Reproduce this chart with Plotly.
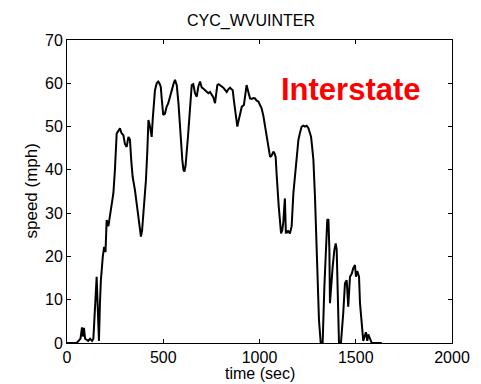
import plotly.graph_objects as go

time_sec = [
    0, 50, 60, 70, 78, 82, 88, 94, 100, 110,
    120, 130, 137, 146, 154, 159, 166, 171, 176, 186,
    193, 200, 206, 215, 223, 235, 241, 249, 258, 267,
    275, 283, 293, 301, 310, 319, 327, 334, 341, 353,
    362, 371, 378, 384, 390, 397, 404, 410, 417, 423,
    431, 440, 445, 451, 457, 466, 474, 480, 487, 493,
    500, 509, 517, 526, 535, 544, 553, 561, 570, 579,
    587, 593, 599, 605, 610, 616, 622, 629, 636, 642,
    648, 656, 665, 674, 682, 691, 700, 708, 717, 725,
    734, 743, 752, 760, 769, 775, 781, 788, 795, 803,
    812, 821, 830, 838, 847, 855, 861, 867, 873, 879,
    885, 892, 899, 908, 919, 926, 933, 942, 951, 960,
    968, 977, 985, 994, 1002, 1011, 1020, 1029, 1035, 1041,
    1048, 1055, 1063, 1072, 1078, 1084, 1089, 1094, 1100, 1106,
    1112, 1118, 1124, 1128, 1132, 1137, 1141, 1145, 1150, 1158,
    1167, 1176, 1183, 1190, 1196, 1202, 1210, 1219, 1228, 1236,
    1245, 1254, 1262, 1268, 1274, 1280, 1288, 1297, 1309, 1318,
    1328, 1337, 1345, 1352, 1358, 1363, 1366, 1371, 1380, 1389,
    1396, 1401, 1406, 1413, 1423, 1429, 1435, 1444, 1453, 1461,
    1466, 1470, 1479, 1487, 1496, 1501, 1508, 1517, 1522, 1531,
    1539, 1548, 1553, 1560, 1565, 1574, 1583, 1635,
]

speed_mph = [
    0, 0, 0.5, 1, 3.6, 1.5, 3.5, 1, 0.8, 0.5,
    1, 0.5, 1, 10, 15.3, 9, 0.5, 9, 14.5, 20,
    22.2, 21, 28.4, 27, 29.2, 32, 34.6, 40, 48.4, 49,
    49.6, 48.5, 48, 46, 45.3, 47.6, 47, 42, 38.4, 35.3,
    32, 28.4, 26, 24.6, 26, 30, 34, 37.6, 44, 51.5,
    50, 47.6, 51.5, 55, 58.4, 60, 60.4, 60, 59.2, 56,
    52.7, 53, 54.5, 55.4, 57, 58.4, 59.8, 60.8, 59.6, 55.4,
    49.2, 45.5, 42.3, 40, 39.6, 41, 43.8, 48, 52.3, 56,
    59.6, 59.8, 57.7, 56.9, 59.2, 60.4, 59, 58.8, 58.4, 58.2,
    57.7, 58, 57.5, 56.8, 55.4, 57.5, 59.6, 59.8, 59.6, 59.2,
    59, 58.5, 58, 58.6, 59, 58.6, 58.4, 56, 53.8, 51.5,
    50, 51.5, 53, 54.6, 55, 57, 59.6, 58, 56.5, 56.4,
    56.6, 56.5, 56, 55.8, 55.2, 54.2, 52.5, 50, 48.5, 46.9,
    45, 43, 43.3, 44.2, 43.8, 43, 39, 34.6, 31.5, 28.4,
    25.3, 26, 28, 31, 33.4, 25.3, 26, 25.6, 25.8, 25.3,
    27, 34.6, 38.5, 42.3, 45, 46.9, 48.5, 50, 50.2, 50,
    50.2, 49.6, 48.5, 47.6, 45, 42.3, 34, 20.5, 5.3, 0,
    0, 13, 21.5, 28.4, 28.6, 21.5, 9.2, 13, 17.6, 21.5,
    23, 21.5, 13, 0, 0, 3, 6.9, 13.8, 14.5, 8.4,
    12, 15.3, 16, 17.3, 18, 15.3, 16.6, 15.3, 9.2, 3.8,
    0.5, 1.8, 2.5, 0.5, 2, 1, 0, 0,
]

x_ticks = [0, 500, 1000, 1500, 2000]
y_ticks = [0, 10, 20, 30, 40, 50, 60, 70]
chart_title = "CYC_WVUINTER"
x_label = "time (sec)"
y_label = "speed (mph)"
note_text = "Interstate"

FONT = "Liberation Sans, Arial, sans-serif"

fig = go.Figure()
fig.add_trace(go.Scatter(
    x=time_sec, y=speed_mph, mode="lines",
    line=dict(color="black", width=2),
    showlegend=False, hoverinfo="skip",
))

axis_common = dict(
    showline=True, linecolor="black", linewidth=1, mirror="ticks",
    ticks="inside", ticklen=4, tickcolor="black", tickwidth=1,
    showgrid=False, zeroline=False, automargin=False,
    tickfont=dict(family=FONT, size=16, color="black"),
)

fig.update_layout(
    width=481, height=384,
    margin=dict(l=67, r=29, t=40, b=41),
    paper_bgcolor="white", plot_bgcolor="white",
    font=dict(family=FONT, size=16, color="black"),
    title=dict(text=chart_title, x=0.478, xref="paper", xanchor="center",
               y=0.947, yref="container", yanchor="middle",
               font=dict(family=FONT, size=16, color="black")),
    xaxis=dict(range=[0, 2000], tickvals=x_ticks, ticktext=[str(v) for v in x_ticks],
               **axis_common),
    yaxis=dict(range=[0, 70], tickvals=y_ticks, ticktext=[str(v) for v in y_ticks],
               **axis_common),
    annotations=[
        dict(text="<b>" + note_text + "</b>", xref="paper", yref="paper",
             x=0.551, y=0.835, xanchor="left", yanchor="middle", showarrow=False,
             font=dict(family=FONT, size=31, color="#ff0000")),
        dict(text=x_label, xref="paper", yref="paper",
             x=0.5, y=-0.101, xanchor="center", yanchor="middle", showarrow=False,
             font=dict(family=FONT, size=16, color="black")),
        dict(text=y_label, xref="paper", yref="paper", textangle=-90,
             x=-0.0935, y=0.5, xanchor="center", yanchor="middle", showarrow=False,
             font=dict(family=FONT, size=17, color="black")),
    ],
)

fig.write_html("out.html")
